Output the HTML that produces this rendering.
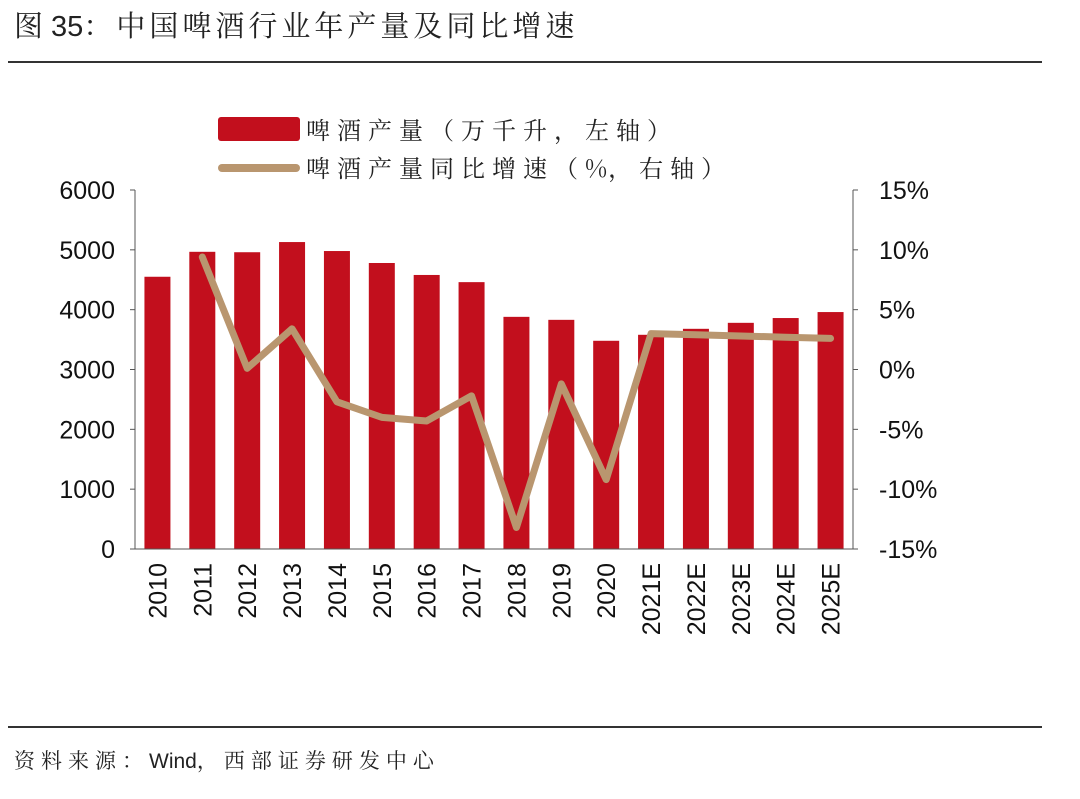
<!DOCTYPE html>
<html><head><meta charset="utf-8"><style>
body{margin:0;background:#fff;width:1080px;height:794px;overflow:hidden;font-family:"Liberation Sans","Noto Sans CJK SC",sans-serif;}
</style></head><body>
<svg width="1080" height="794" xmlns="http://www.w3.org/2000/svg">
<text x="14" y="36" font-size="29" fill="#222" font-family="Liberation Sans, Noto Serif CJK SC, serif">图 35<tspan letter-spacing="4">：中国啤酒行业年产量及同比增速</tspan></text>
<rect x="8" y="61" width="1034" height="2" fill="#333"/>
<rect x="218" y="117" width="82" height="24" rx="3" fill="#c20f1d"/>
<text x="306" y="139" font-size="24" fill="#222" letter-spacing="7" font-family="Noto Serif CJK SC, serif">啤酒产量（万千升，左轴）</text>
<line x1="222" y1="168" x2="296" y2="168" stroke="#b9966f" stroke-width="8" stroke-linecap="round"/>
<text x="306" y="177" font-size="24" fill="#222" letter-spacing="7" font-family="Noto Serif CJK SC, serif">啤酒产量同比增速（<tspan letter-spacing="1">%</tspan>，右轴）</text>
<g id="plot"></g>
<rect x="8" y="726" width="1034" height="2" fill="#333"/>
<text x="14" y="768" font-size="21" fill="#222" font-family="Liberation Sans, Noto Serif CJK SC, serif"><tspan letter-spacing="6">资料来源：</tspan>Wind<tspan letter-spacing="6">，西部证券研发中心</tspan></text>
</svg>
<script>
const categories=["2010","2011","2012","2013","2014","2015","2016","2017","2018","2019","2020","2021E","2022E","2023E","2024E","2025E"];
const production=[4550,4967,4960,5130,4980,4780,4580,4460,3880,3830,3480,3580,3680,3780,3860,3960];
const growth=[null,9.4,0.1,3.4,-2.7,-4.0,-4.3,-2.2,-13.2,-1.2,-9.2,3.0,2.9,2.8,2.7,2.6];
const leftTicks=[0,1000,2000,3000,4000,5000,6000];
const rightTicks=[-15,-10,-5,0,5,10,15];
const NS="http://www.w3.org/2000/svg";
const g=document.getElementById('plot');
const X0=135,X1=853,Y0=549,Y1=190;
const step=(X1-X0)/categories.length;
const xc=i=>X0+step*(i+0.5);
const yL=v=>Y0-(v/6000)*(Y0-Y1);
const yR=v=>Y0-((v+15)/30)*(Y0-Y1);
function mk(t,a){const e=document.createElementNS(NS,t);for(const k in a)e.setAttribute(k,a[k]);g.appendChild(e);return e;}
let e;
production.forEach((v,i)=>{
 e=mk('rect',{x:xc(i)-13,y:yL(v),width:26,height:Y0-yL(v),fill:'#c20f1d'});
 
 
});
e=mk('line',{x1:X0,y1:Y1,x2:X0,y2:Y0,stroke:'#555','stroke-width':1});


e=mk('line',{x1:X1,y1:Y1,x2:X1,y2:Y0,stroke:'#555','stroke-width':1});


e=mk('line',{x1:X0,y1:Y0,x2:X1,y2:Y0,stroke:'#555','stroke-width':1});


leftTicks.forEach(v=>{
 e=mk('text',{x:X0-20,y:yL(v)+9,'font-size':25,'text-anchor':'end',fill:'#111'});e.textContent=v;
 
 
 mk('line',{x1:X0-5,y1:yL(v),x2:X0,y2:yL(v),stroke:'#555'});
});
rightTicks.forEach(v=>{
 e=mk('text',{x:X1+26,y:yR(v)+9,'font-size':25,fill:'#111'});e.textContent=v+'%';
 
 
 mk('line',{x1:X1,y1:yR(v),x2:X1+5,y2:yR(v),stroke:'#555'});
});
categories.forEach((c,i)=>{
 e=mk('text',{x:0,y:0,'font-size':25,'text-anchor':'end',fill:'#111',transform:`translate(${xc(i)+9},${Y0+14}) rotate(-90)`});e.textContent=c;
 
 
});
const pts=growth.map((v,i)=>v==null?null:`${xc(i)},${yR(v)}`).filter(p=>p).join(' ');
e=mk('polyline',{points:pts,fill:'none',stroke:'#b9966f','stroke-width':7,'stroke-linejoin':'round','stroke-linecap':'round'});


</script>
</body></html>
